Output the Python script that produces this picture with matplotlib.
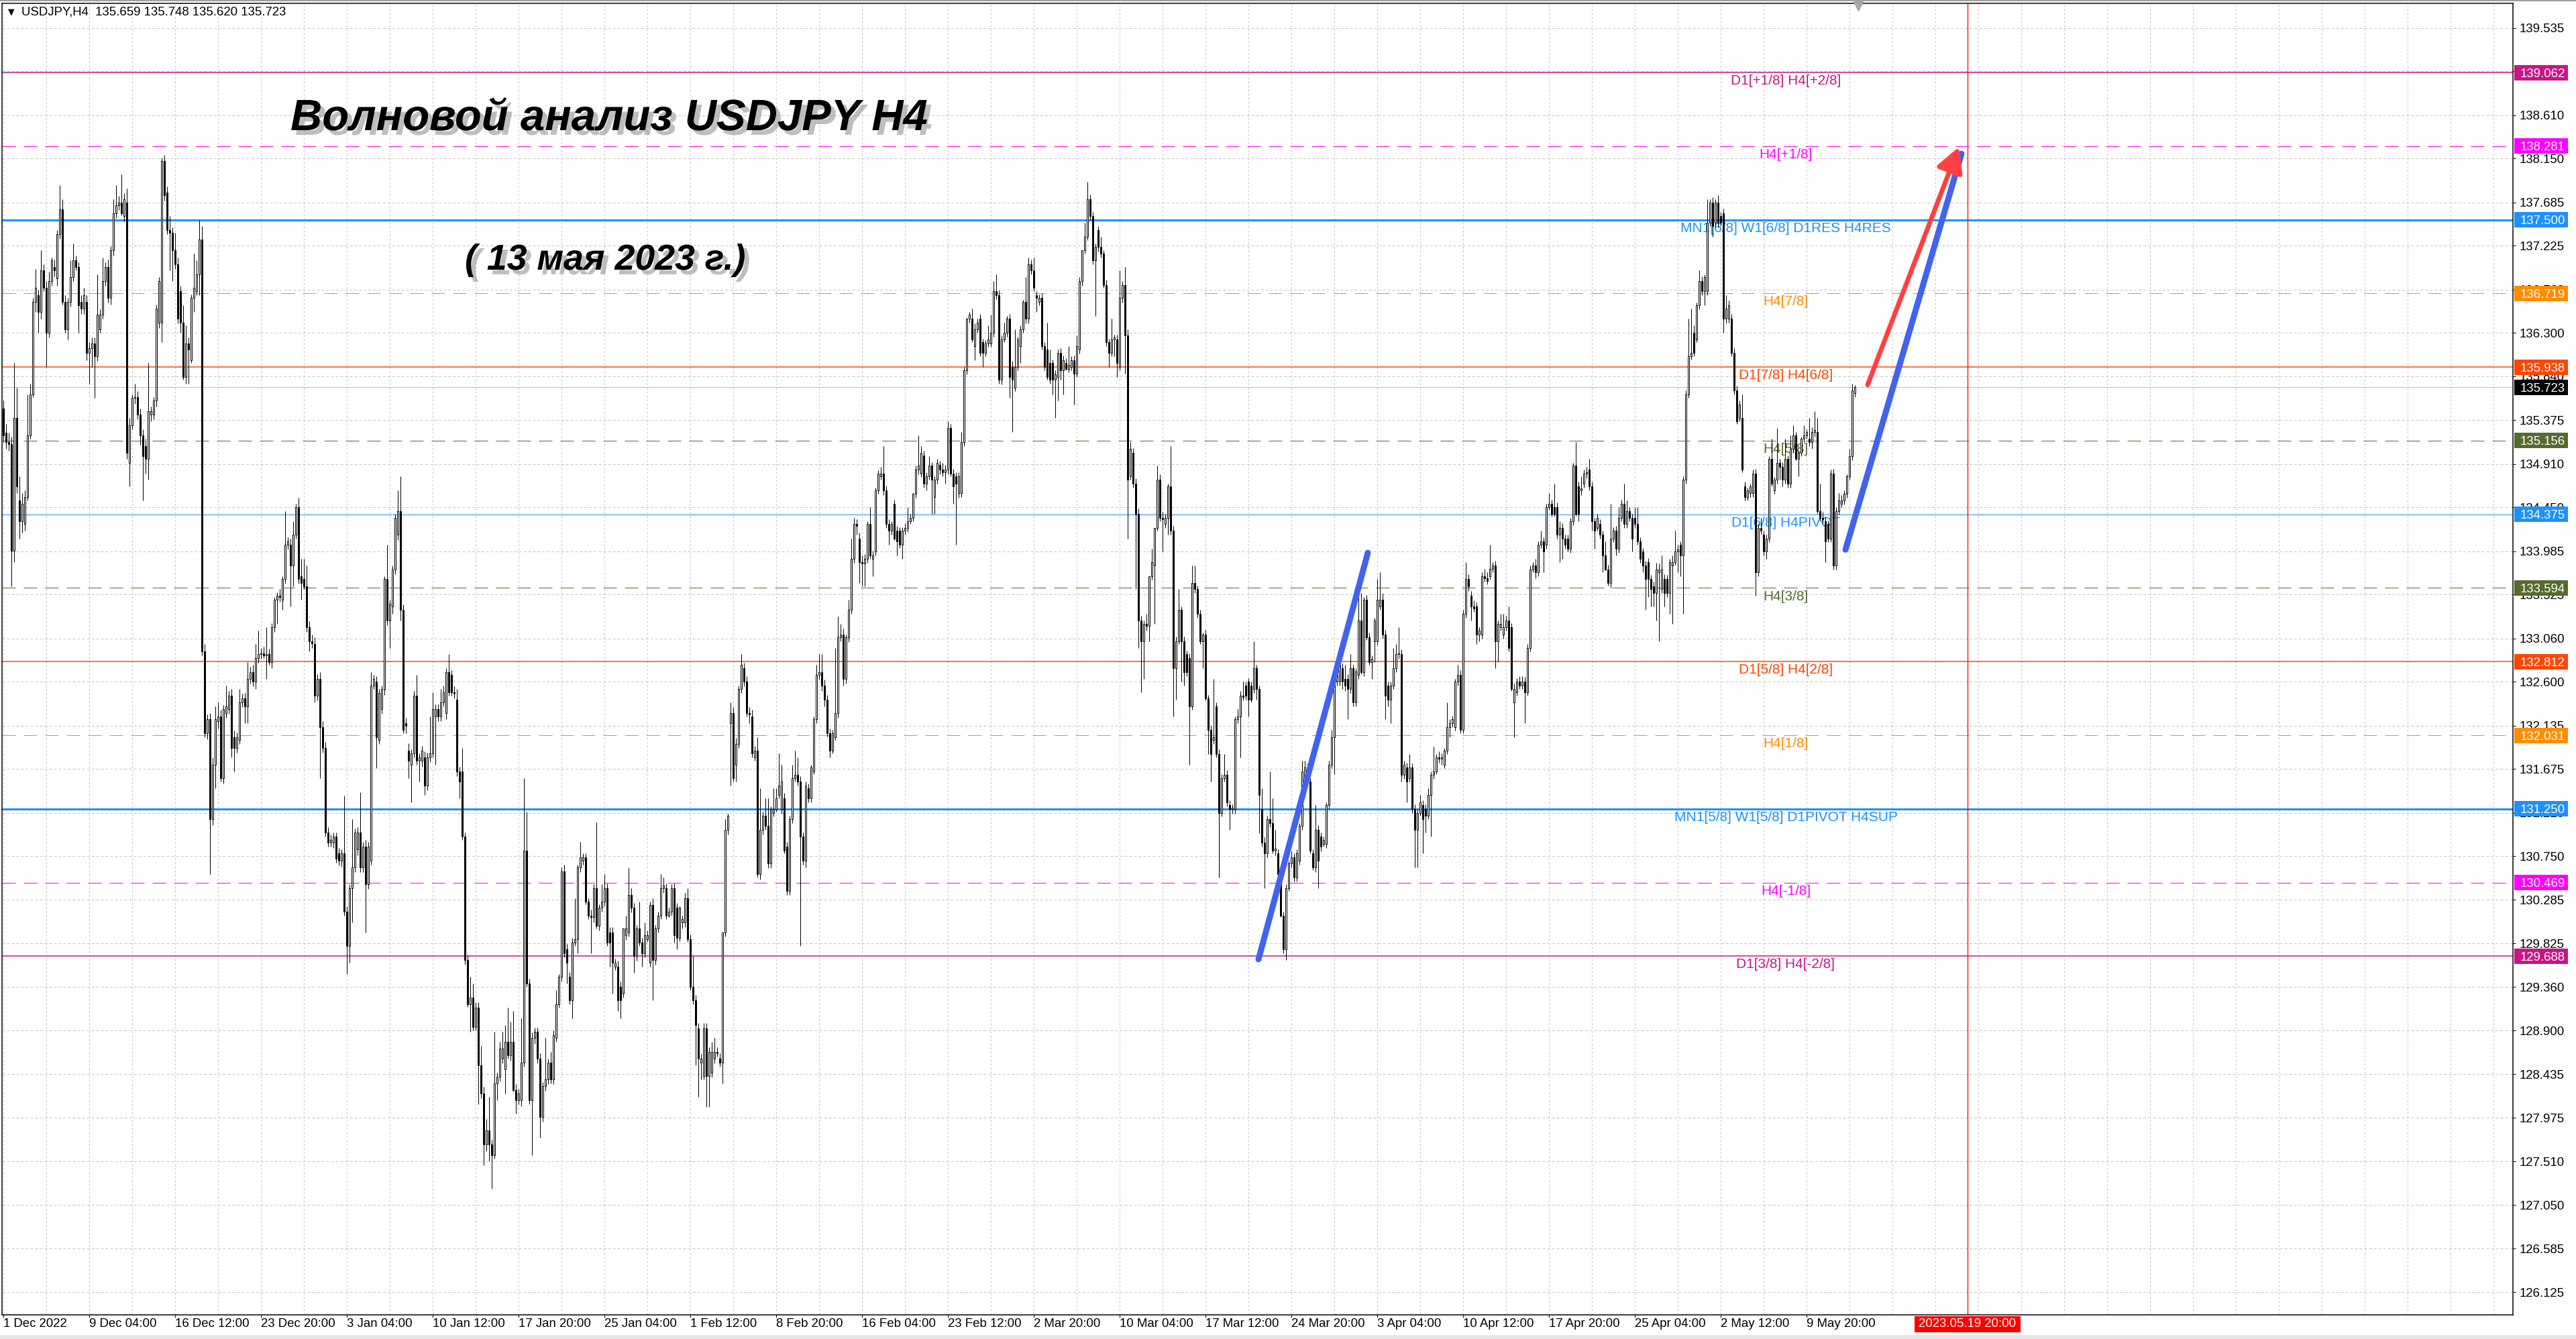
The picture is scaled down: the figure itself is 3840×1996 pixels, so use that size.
import numpy as np
import pandas as pd
import matplotlib
matplotlib.use("Agg")
import matplotlib.pyplot as plt
import matplotlib.patheffects as pe
import matplotlib.transforms as mtransforms
from matplotlib import font_manager as fm
from matplotlib.patches import Rectangle, FancyArrowPatch

# ---------------------------------------------------------------- data
symbol = "USDJPY,H4"
title_line = "Волновой анализ USDJPY H4"
date_line = "( 13 мая 2023 г.)"

# H4 candles (open, high, low, close), first bar = 1 Dec 2022 20:00
dec_2022 = [
    (135.50,135.58,135.14,135.21),(135.24,135.33,135.07,135.14),(135.14,135.24,135.05,135.12),(135.12,135.20,133.61,133.99),(133.99,135.98,133.87,135.40),
    (135.40,135.72,134.60,134.67),(134.52,134.78,134.12,134.30),(134.30,134.60,134.18,134.49),(134.27,134.63,134.20,134.56),(134.56,135.65,134.52,135.21),
    (135.21,135.76,135.18,135.65),(135.65,136.67,135.62,136.63),(136.63,136.98,136.52,136.78),(136.70,136.76,136.30,136.52),(136.52,137.18,136.45,136.96),
    (136.96,137.03,136.74,136.78),(136.78,136.85,135.94,136.30),(136.30,136.95,136.25,136.85),(136.85,137.10,136.80,137.07),(137.00,137.08,136.90,136.96),
    (136.88,137.39,136.80,137.35),(137.35,137.87,137.30,137.61),(137.61,137.72,136.60,136.63),(136.63,136.70,136.30,136.34),(136.34,136.67,136.23,136.63),
    (136.63,137.07,136.58,136.89),(136.89,137.25,136.85,137.07),(137.07,137.12,136.96,137.00),(137.00,137.05,136.30,136.59),(136.63,136.70,136.50,136.56),
    (136.56,136.78,136.50,136.70),(136.63,136.70,136.01,136.09),(136.09,136.20,135.76,136.14),(136.14,136.25,135.94,136.19),(136.19,136.25,135.61,136.05),
    (136.05,136.92,136.00,136.49),(136.34,136.55,136.30,136.49),(136.49,137.10,136.45,136.85),(136.85,137.05,136.80,137.00),(137.00,137.08,136.62,136.67),
    (136.67,137.22,136.60,137.18),(137.18,137.72,137.12,137.57),(137.57,137.87,137.52,137.65),(137.65,137.75,137.60,137.68),(137.68,137.98,137.55,137.57),
    (137.54,137.78,137.48,137.72),(137.68,137.83,134.96,135.03),(134.92,135.40,134.67,135.32),(135.32,135.65,135.28,135.61),(135.61,135.76,135.55,135.62),
    (135.62,135.68,135.38,135.43),(135.43,135.50,135.11,135.21),(135.21,135.28,134.52,134.99),(135.10,135.18,134.81,134.96),(134.96,135.98,134.74,135.47),
    (135.43,135.52,135.36,135.47),(135.43,135.62,135.38,135.58),(135.58,136.60,135.52,136.56),(136.41,136.89,136.35,136.85),(136.41,138.16,136.20,138.12),
    (138.12,138.19,137.70,137.76),(137.79,137.85,137.35,137.39),(137.39,137.54,136.96,137.36),(137.36,137.42,136.85,137.18),(137.18,137.36,136.98,137.03),
    (137.03,137.10,136.40,136.45),(136.74,136.80,136.30,136.41),(136.41,136.59,135.80,135.83),(135.83,136.38,135.76,136.19),(136.19,136.25,135.76,136.12),
    (136.01,136.71,135.98,136.67),(136.67,137.14,136.52,136.78),(136.74,137.07,136.70,136.92),(136.92,137.50,136.70,137.29),(137.29,137.43,132.88,132.92),
    (132.92,133.00,132.01,132.05),(132.05,132.25,131.99,132.20),(132.20,132.27,130.56,131.14),(131.14,131.80,131.08,131.72),(131.72,132.34,131.47,132.20),
    (132.18,132.38,132.10,132.23),(132.23,132.30,131.54,131.58),(131.58,132.35,131.52,132.31),(132.27,132.56,132.22,132.34),(132.31,132.50,132.26,132.45),
    (132.45,132.52,131.80,131.90),(132.01,132.08,131.65,131.90),(131.90,132.06,131.85,132.01),(131.98,132.52,131.94,132.38),(132.38,132.47,132.33,132.42),
    (132.42,132.48,132.16,132.34),(132.34,132.81,132.16,132.63),(132.63,132.76,132.58,132.70),(132.70,132.78,132.55,132.60),(132.60,133.00,132.52,132.85),
    (132.85,133.14,132.80,132.89),(132.89,132.96,132.84,132.90),(132.90,132.97,132.85,132.88),(132.88,133.18,132.63,132.89),(132.89,132.95,132.78,132.81),
    (132.81,133.22,132.74,133.18),(133.18,133.50,133.13,133.47),(133.47,133.55,133.21,133.51),(133.51,133.58,133.45,133.50),(133.47,133.72,133.36,133.69),
    (133.69,134.41,133.64,134.05),(134.05,134.13,134.00,134.09),(134.05,134.12,133.40,133.83),(133.83,134.30,133.61,134.16),(134.16,134.49,134.12,134.45),
    (134.45,134.55,133.64,133.69),(133.72,133.90,133.47,133.65),(133.69,133.90,133.58,133.61),(133.61,133.83,133.13,133.18),(133.18,133.24,132.92,133.03),
    (133.03,133.10,132.96,133.01),(133.00,133.07,132.38,132.45),(132.45,132.68,132.40,132.63),(132.63,132.70,131.58,132.12),(132.12,132.18,131.85,131.90),
    (131.90,131.96,130.96,131.00),
]
jan_2023 = [
    (131.00,131.06,130.85,130.89),(130.89,130.98,130.85,130.92),(130.89,131.00,130.84,130.96),(130.96,131.00,130.68,130.72),(130.78,130.84,130.65,130.70),
    (130.70,130.82,130.64,130.78),(130.78,131.39,130.12,130.16),(130.16,130.22,129.50,129.80),(129.80,130.45,129.62,130.41),(130.41,131.14,130.05,130.63),
    (130.63,131.04,130.58,131.00),(130.82,131.06,130.76,131.00),(131.00,131.43,130.58,130.63),(130.63,130.90,130.58,130.85),(130.85,130.92,129.94,130.45),
    (130.45,130.90,130.40,130.85),(130.70,132.70,130.66,132.56),(132.56,132.67,132.52,132.63),(132.60,132.66,131.68,132.01),(131.98,132.52,131.94,132.48),
    (132.31,132.56,132.26,132.52),(132.52,133.72,132.46,133.69),(133.69,134.05,133.20,133.25),(133.25,133.47,132.96,133.43),(133.40,133.83,133.32,133.79),
    (133.79,134.38,133.74,134.34),(134.16,134.63,134.10,134.41),(134.41,134.78,133.25,133.36),(133.36,133.42,132.05,132.09),(132.16,132.22,132.05,132.13),
    (131.87,131.95,131.58,131.76),(131.72,131.88,131.32,131.84),(131.84,132.50,131.80,132.45),(132.45,132.67,131.72,131.76),(131.76,131.84,131.54,131.80),
    (131.76,131.92,131.70,131.87),(131.80,131.86,131.40,131.50),(131.50,131.85,131.45,131.80),(131.80,132.23,131.75,131.84),(131.84,132.49,131.80,132.31),
    (132.23,132.36,131.72,132.31),(132.31,132.36,132.18,132.23),(132.23,132.52,132.18,132.38),(132.38,132.56,132.34,132.49),(132.27,132.74,132.20,132.70),
    (132.70,132.89,132.45,132.49),(132.67,132.72,132.45,132.49),(132.49,132.55,132.42,132.47),(132.41,132.52,131.60,131.65),(131.65,131.70,131.36,131.54),
    (131.65,131.90,130.92,130.96),(130.96,131.00,129.60,129.65),(129.65,129.70,129.15,129.18),(129.18,129.47,128.89,129.25),(129.25,129.40,128.90,128.94),
    (128.94,129.20,128.90,129.14),(129.14,129.20,128.12,128.53),(128.53,128.74,128.18,128.23),(128.23,128.30,127.47,127.69),(127.69,127.96,127.62,127.84),
    (127.84,128.20,127.51,127.69),(127.69,127.74,127.22,127.58),(127.58,128.89,127.54,128.34),(128.34,128.45,128.16,128.41),(128.41,128.78,128.36,128.71),
    (128.60,128.89,128.55,128.71),(128.49,128.96,128.23,128.78),(128.78,129.14,128.60,128.64),(128.64,128.99,128.58,128.78),(128.78,129.11,128.25,128.27),
    (128.27,128.33,128.02,128.16),(128.16,128.28,128.12,128.23),(128.16,129.03,128.10,128.56),(128.56,131.58,128.52,130.81),(130.81,131.22,129.36,129.40),
    (129.40,129.45,128.12,128.16),(128.16,128.88,127.58,128.82),(128.82,128.93,128.76,128.89),(128.89,128.93,128.55,128.60),(128.60,128.66,127.76,127.98),
    (127.98,128.35,127.93,128.31),(128.31,128.82,128.26,128.38),(128.38,128.60,128.33,128.56),(128.56,128.67,128.34,128.38),(128.38,128.90,128.33,128.85),
    (128.82,129.33,128.78,129.18),(129.18,129.50,129.14,129.47),(129.47,130.63,129.42,130.59),(130.59,130.66,129.68,129.72),(129.76,129.82,129.40,129.62),
    (129.47,129.52,129.18,129.22),(129.22,129.88,129.03,129.83),(129.83,130.30,129.80,129.87),(129.87,130.66,129.72,130.63),(130.63,130.90,130.58,130.74),
    (130.70,130.78,130.66,130.74),(130.74,130.78,130.24,130.27),(130.27,130.30,130.08,130.12),(130.12,130.18,129.72,130.10),(130.10,130.45,130.05,130.41),
    (130.41,131.11,129.98,130.01),(130.01,130.24,129.96,130.20),(130.20,130.45,130.16,130.27),(130.27,130.56,130.22,130.41),(130.41,130.46,129.80,129.83),
    (129.94,130.00,129.58,129.83),(129.94,130.00,129.29,129.62),(129.58,129.66,129.54,129.62),(129.58,129.64,129.11,129.22),(129.36,129.42,129.03,129.22),
    (129.29,129.98,129.25,129.98),(129.91,130.12,129.86,129.98),(129.94,130.63,129.90,130.34),(130.34,130.41,130.15,130.20),(130.20,130.25,129.51,129.69),
    (129.69,130.02,129.64,129.98),(129.98,130.27,129.80,129.83),(129.83,129.88,129.58,129.72),(129.72,130.05,129.68,129.91),(129.87,129.96,129.84,129.91),
    (129.62,130.27,129.58,130.23),(130.23,130.30,129.22,129.65),(129.65,130.02,129.60,129.98),(129.98,130.16,129.94,130.12),(130.12,130.56,130.08,130.41),
    (130.41,130.52,130.36,130.44),(130.41,130.46,130.08,130.12),(130.12,130.20,130.10,130.16),(130.16,130.45,130.12,130.41),(130.41,130.46,129.83,129.91),
    (130.20,130.25,129.76,129.88),(129.88,130.22,129.85,130.20),
]
feb_2023 = [
    (130.05,130.12,129.98,130.08),(130.05,130.36,130.00,130.30),(130.30,130.41,129.84,129.87),(129.87,129.92,129.33,129.36),(129.36,129.69,129.18,129.22),
    (129.22,129.28,128.53,128.96),(128.92,128.98,128.20,128.60),(128.56,128.65,128.38,128.60),(128.42,128.98,128.38,128.92),(128.92,128.98,128.09,128.42),
    (128.42,128.72,128.09,128.67),(128.45,128.78,128.40,128.67),(128.60,128.82,128.55,128.67),(128.67,128.72,128.62,128.66),(128.60,128.66,128.52,128.56),
    (128.56,129.94,128.34,129.94),(129.94,131.14,129.90,131.03),(131.03,131.20,130.98,131.18),(132.16,132.38,131.50,132.27),(132.27,132.33,131.54,131.58),
    (131.72,132.00,131.54,131.94),(131.94,132.56,131.90,132.52),(132.52,132.89,132.48,132.78),(132.74,132.80,132.55,132.60),(132.60,132.66,132.23,132.27),
    (132.27,132.33,132.16,132.25),(132.23,132.30,131.80,131.84),(131.80,131.92,131.76,131.87),(131.87,132.01,130.52,130.56),(130.56,131.47,130.50,131.03),
    (131.03,131.22,130.98,131.18),(131.18,131.36,131.03,131.07),(131.07,131.36,130.62,130.67),(130.67,131.28,130.62,131.25),(131.21,131.47,131.17,131.25),
    (131.25,131.47,131.22,131.36),(131.40,131.84,131.36,131.50),(131.25,131.72,131.20,131.54),(131.36,131.42,130.78,130.81),(130.85,130.90,130.34,130.38),
    (130.38,131.18,130.34,131.14),(131.14,131.72,131.10,131.58),(131.58,131.87,131.54,131.61),(131.61,131.80,131.50,131.54),(131.54,131.60,129.80,130.96),
    (130.96,131.00,130.66,130.70),(130.70,131.54,130.63,131.50),(131.47,131.52,131.32,131.36),(131.36,131.72,131.32,131.69),(131.65,132.23,131.62,132.20),
    (132.20,132.78,132.16,132.67),(132.67,132.89,132.62,132.70),(132.70,132.89,132.50,132.56),(132.56,132.62,132.34,132.41),(132.41,132.46,132.02,132.05),
    (132.05,132.10,131.80,131.87),(131.87,132.09,131.84,132.05),(132.01,132.96,131.98,132.27),(132.27,133.29,132.22,133.07),(133.07,133.21,133.03,133.10),
    (133.10,133.16,132.56,132.63),(132.63,133.10,132.58,133.07),(133.07,133.47,133.02,133.36),(133.36,134.12,133.32,133.90),(133.90,134.34,133.86,134.27),
    (134.27,134.32,134.16,134.25),(134.12,134.18,133.65,133.87),(133.87,133.94,133.61,133.85),(133.85,133.95,133.61,133.90),(133.90,134.30,133.86,134.27),
    (134.27,134.45,133.90,133.94),(133.90,133.99,133.72,133.94),(133.98,134.66,133.94,134.63),(134.63,134.84,134.59,134.81),(134.78,134.88,134.74,134.81),
    (134.81,135.10,134.58,134.63),(134.63,134.68,134.23,134.27),(134.27,134.32,134.05,134.20),(134.20,134.30,134.16,134.27),(134.49,134.53,134.10,134.12),
    (134.20,134.25,133.94,134.09),(134.20,134.24,134.02,134.05),(134.05,134.24,133.90,134.20),(134.20,134.28,134.16,134.23),(134.23,134.45,134.19,134.30),
    (134.30,134.38,134.27,134.34),(134.34,134.60,134.30,134.59),(134.59,134.89,134.55,134.85),(134.85,135.21,134.80,134.89),(134.81,135.10,134.77,135.03),
    (135.00,135.05,134.66,134.70),(134.70,134.82,134.63,134.78),(134.78,134.99,134.74,134.89),(134.89,134.93,134.38,134.74),(134.56,134.78,134.38,134.74),
    (134.74,134.96,134.70,134.92),(134.90,134.94,134.80,134.85),(134.85,134.92,134.78,134.82),(134.82,134.90,134.70,134.85),(134.85,135.36,134.80,135.29),
    (135.29,135.33,134.78,134.81),(134.81,134.86,134.49,134.67),(134.78,134.82,134.05,134.70),(134.60,134.82,134.55,134.78),(134.60,135.25,134.56,135.14),
    (135.14,135.94,135.10,135.90),(135.90,136.46,135.86,136.45),(136.45,136.52,136.41,136.49),(136.45,136.56,136.20,136.23),(136.16,136.40,136.01,136.34),
    (136.34,136.45,136.30,136.41),(136.45,136.50,136.05,136.09),(136.20,136.24,135.94,136.09),(136.09,136.22,136.05,136.19),(136.19,136.38,136.15,136.23),
    (136.19,136.49,136.15,136.30),(136.30,136.85,136.26,136.74),(136.74,136.92,136.66,136.70),(136.70,136.75,135.76,135.80),(135.80,136.27,135.75,136.23),
]
mar_2023 = [
    (136.23,136.41,136.20,136.30),(136.30,136.48,136.26,136.45),(136.45,136.50,135.61,135.83),(135.94,136.00,135.25,135.80),(135.72,136.34,135.68,135.94),
    (135.94,136.26,135.90,136.23),(136.16,136.38,135.98,136.34),(136.34,136.65,136.30,136.63),(136.63,136.89,136.40,136.45),(136.45,137.10,136.40,137.03),
    (137.03,137.08,136.92,136.96),(136.96,137.10,136.74,136.78),(136.70,136.74,136.52,136.67),(136.63,136.71,136.59,136.67),(136.67,136.72,136.12,136.16),
    (136.16,136.20,135.90,135.94),(136.12,136.41,135.80,135.83),(135.98,136.12,135.76,135.80),(135.98,136.02,135.65,135.80),(135.80,135.90,135.40,135.86),
    (135.83,136.12,135.58,136.09),(136.09,136.14,135.80,135.90),(135.90,136.06,135.65,136.01),(135.98,136.03,135.90,135.92),(135.92,136.16,135.88,135.96),
    (135.94,136.05,135.90,136.01),(136.01,136.06,135.54,135.87),(135.87,136.27,135.83,136.16),(136.12,136.89,136.08,136.85),(136.85,137.18,136.80,137.18),
    (137.18,137.47,137.14,137.32),(137.32,137.90,137.28,137.72),(137.72,137.77,137.50,137.54),(137.54,137.58,137.03,137.07),(137.07,137.25,136.48,137.21),
    (137.39,137.43,137.16,137.21),(137.21,137.32,137.10,137.14),(137.14,137.18,136.78,136.81),(136.81,136.86,136.16,136.20),(136.20,136.24,135.94,136.09),
    (136.09,136.45,136.05,136.23),(136.23,136.28,136.05,136.25),(136.23,136.28,135.83,135.98),(135.94,136.96,135.90,136.67),(136.67,136.85,136.62,136.81),
    (136.81,137.00,135.87,136.27),(136.27,136.34,134.12,134.74),(134.78,135.14,134.74,135.07),(135.03,135.08,134.66,134.70),(134.70,134.76,133.58,134.38),
    (134.38,134.44,132.96,133.25),(133.25,133.30,132.49,133.03),(133.03,133.25,132.63,133.21),(133.21,133.32,133.14,133.19),(133.19,133.72,133.03,133.72),
    (133.72,134.01,133.68,133.87),(133.83,134.23,133.21,134.23),(134.23,134.89,134.20,134.74),(134.74,134.80,134.30,134.34),(134.34,134.40,133.98,134.32),
    (134.27,134.38,134.23,134.34),(134.34,134.70,134.16,134.67),(134.67,135.10,134.16,134.20),(134.20,134.25,132.23,132.74),(132.74,133.08,132.41,133.03),
    (133.03,133.58,133.00,133.36),(133.36,133.40,132.60,133.03),(133.03,133.08,132.56,132.70),(132.89,132.93,132.66,132.70),(132.85,132.90,131.72,132.34),
    (132.34,133.83,132.30,133.65),(133.65,133.83,133.54,133.58),(133.58,133.62,133.28,133.32),(133.32,133.36,133.00,133.03),(133.03,133.12,132.74,133.10),
    (133.10,133.15,132.40,132.42),(132.42,132.46,131.83,132.09),(132.09,132.14,131.54,131.83),(131.98,132.63,131.94,132.01),(132.34,132.38,131.80,131.83),
    (131.83,131.88,130.52,131.21),(131.21,131.62,131.17,131.58),(131.58,131.83,131.54,131.61),(131.61,131.66,131.28,131.32),(131.29,131.34,131.03,131.25),
    (131.25,131.30,131.20,131.26),(131.25,132.23,131.20,132.20),(132.20,132.31,132.16,132.23),(132.23,132.50,131.80,132.45),(132.45,132.60,132.40,132.44),
    (132.56,132.60,132.41,132.45),(132.60,132.64,132.23,132.41),(132.56,132.60,132.38,132.41),(132.52,133.03,132.48,132.74),(132.74,132.78,132.41,132.52),
    (132.52,132.56,130.99,131.40),(131.25,131.47,130.85,130.89),(130.89,130.95,130.41,130.78),(130.78,131.18,130.74,131.14),(131.14,131.65,131.06,131.10),
    (131.10,131.36,130.78,130.81),(130.81,131.03,130.76,130.83),(130.78,130.82,130.52,130.56),(130.56,130.60,130.10,130.12),(130.12,130.16,129.72,129.76),
    (129.76,130.45,129.65,130.41),(130.41,130.70,130.38,130.67),(130.67,130.80,130.63,130.74),(130.74,130.78,130.48,130.52),(130.52,130.82,130.48,130.78),
    (130.70,131.10,130.66,131.07),(131.07,131.76,131.03,131.65),(131.58,131.76,131.54,131.69),(131.69,131.73,131.50,131.54),(131.54,131.58,130.78,130.81),
    (130.78,130.82,130.60,130.63),(130.63,131.29,130.58,131.03),(131.03,131.08,130.41,130.70),(130.96,131.00,130.80,130.85),(130.88,130.96,130.85,130.92),
    (130.88,131.32,130.84,131.29),(131.29,131.76,131.25,131.72),(131.72,132.09,131.68,132.01),(132.01,132.64,131.62,132.60),(132.60,132.72,132.56,132.67),
    (132.60,132.82,132.56,132.78),(132.74,132.79,132.52,132.60),(132.63,132.78,132.50,132.56),(132.63,132.68,132.20,132.52),(132.52,132.89,132.48,132.74),
    (132.74,132.78,132.34,132.38),(132.38,132.74,132.34,132.71),(132.67,133.50,132.63,133.25),(133.25,133.54,132.68,132.70),(132.70,133.50,132.66,133.47),
    (133.47,133.52,133.04,133.07),(133.07,133.12,132.78,132.81),(132.81,132.88,132.63,132.84),
]
apr_2023 = [
    (133.03,133.28,132.81,133.25),(133.03,133.69,132.99,133.47),(133.40,133.76,133.36,133.47),(133.47,133.54,133.06,133.10),(133.10,133.15,132.20,132.45),
    (132.56,132.60,132.34,132.41),(132.41,132.60,132.16,132.56),(132.56,132.96,132.52,132.74),(132.74,133.00,132.70,132.89),(132.89,133.18,132.84,132.90),
    (132.89,132.94,131.54,131.61),(131.61,131.76,131.57,131.72),(131.69,131.74,131.32,131.54),(131.58,131.83,131.54,131.69),(131.69,131.73,131.21,131.25),
    (131.25,131.30,130.63,131.03),(131.03,131.25,130.63,131.21),(131.21,131.40,131.18,131.32),(131.29,131.34,130.78,131.14),(131.25,131.30,131.00,131.18),
    (131.18,131.47,131.14,131.40),(131.40,131.65,130.96,131.61),(131.61,131.91,131.57,131.65),(131.65,131.83,131.62,131.80),(131.80,131.86,131.74,131.78),
    (131.78,131.84,131.72,131.80),(131.72,131.90,131.68,131.87),(131.87,132.38,131.83,132.12),(132.12,132.20,132.01,132.16),(132.16,132.24,132.12,132.20),
    (132.12,132.63,132.08,132.60),(132.60,132.78,132.56,132.67),(132.67,132.72,132.05,132.09),(132.09,133.36,132.05,133.32),(133.32,133.87,133.28,133.69),
    (133.69,133.74,133.56,133.61),(133.51,133.56,133.25,133.40),(133.40,133.46,133.34,133.38),(133.40,133.44,133.00,133.10),(133.10,133.18,133.03,133.14),
    (133.10,133.76,133.06,133.72),(133.72,133.80,133.66,133.70),(133.70,133.76,133.63,133.67),(133.72,134.05,133.68,133.80),(133.80,133.87,133.76,133.83),
    (133.83,133.88,132.74,133.03),(133.03,133.25,132.81,133.21),(133.18,133.32,133.14,133.21),(133.10,133.32,133.06,133.18),(133.18,133.30,133.14,133.25),
    (133.25,133.40,132.92,132.96),(133.18,133.22,132.50,132.52),(132.38,132.58,132.01,132.52),(132.49,132.64,132.45,132.60),(132.60,132.66,132.52,132.56),
    (132.56,132.66,132.52,132.60),(132.60,132.65,132.16,132.49),(132.49,133.00,132.45,132.96),(132.96,133.83,132.92,133.79),(133.79,133.87,133.76,133.83),
    (133.83,133.90,133.70,133.76),(133.76,134.09,133.72,134.05),(134.05,134.20,134.02,134.09),(134.09,134.13,133.76,133.98),(134.05,134.49,134.01,134.45),
    (134.45,134.60,134.42,134.49),(134.49,134.53,134.35,134.38),(134.45,134.70,134.35,134.38),(134.45,134.50,134.12,134.16),(134.16,134.30,133.87,134.23),
    (134.23,134.28,133.90,134.12),(134.12,134.16,134.01,134.05),(134.12,134.16,133.98,134.01),(134.01,134.34,133.97,134.30),(134.30,134.92,134.26,134.89),
    (134.89,135.14,134.36,134.38),(134.67,134.72,134.30,134.38),(134.63,134.78,134.58,134.65),(134.70,134.85,134.66,134.81),(134.81,134.88,134.76,134.82),
    (134.85,134.96,134.63,134.67),(134.67,134.72,134.20,134.30),(134.30,134.34,134.01,134.20),(134.23,134.38,134.20,134.34),(134.27,134.32,134.12,134.16),
    (134.16,134.20,133.76,133.94),(133.94,134.09,133.78,133.79),(133.79,133.84,133.62,133.65),(133.65,134.49,133.60,134.12),(134.12,134.24,134.08,134.20),
    (134.20,134.25,133.94,134.01),(134.01,134.45,133.97,134.34),(134.34,134.53,134.30,134.49),(134.49,134.70,134.23,134.27),(134.27,134.52,134.23,134.41),
    (134.41,134.45,134.30,134.34),(134.34,134.38,133.98,134.12),(134.34,134.45,134.23,134.27),(134.27,134.45,134.05,134.09),(134.09,134.13,133.86,133.90),
    (133.98,134.02,133.76,133.83),(133.83,133.88,133.36,133.69),(133.87,133.91,133.50,133.69),(133.69,133.73,133.40,133.58),(133.61,133.66,133.40,133.54),
    (133.54,133.86,133.25,133.79),(133.76,133.85,133.03,133.79),(133.58,133.94,133.54,133.79),(133.69,133.74,133.40,133.54),(133.69,133.73,133.50,133.54),
    (133.54,133.90,133.32,133.87),(133.83,133.94,133.21,133.87),(133.87,134.20,133.84,133.98),(133.98,134.05,133.76,134.00),(134.05,134.09,133.72,133.94),
    (133.94,134.78,133.32,134.74),(134.74,135.69,134.70,135.65),(135.65,136.45,135.61,136.05),(136.05,136.56,136.02,136.09),(136.30,136.38,136.05,136.09),
]
may_2023 = [
    (136.23,136.62,136.20,136.59),(136.59,136.96,136.55,136.85),(136.85,136.90,136.70,136.74),(136.74,136.92,136.59,136.89),(136.74,137.72,136.70,137.47),
    (137.47,137.72,137.43,137.68),(137.68,137.74,137.32,137.43),(137.47,137.72,137.43,137.68),(137.68,137.76,137.42,137.47),(137.54,137.58,137.43,137.47),
    (137.57,137.62,136.30,136.45),(136.45,136.70,136.40,136.56),(136.45,136.64,136.41,136.59),(136.45,136.50,136.05,136.09),(136.09,136.14,135.65,135.69),
    (135.69,135.74,135.33,135.36),(135.40,135.58,135.36,135.54),(135.40,135.65,134.82,134.85),(134.67,134.72,134.52,134.56),(134.56,134.66,134.52,134.63),
    (134.60,134.70,134.56,134.67),(134.60,134.85,134.56,134.81),(134.81,134.86,133.51,133.76),(133.76,134.27,133.72,134.23),(134.23,134.34,134.16,134.20),
    (134.16,134.20,133.94,133.98),(133.98,134.16,133.90,134.12),(134.12,134.99,134.08,134.96),(134.96,135.18,134.67,134.70),(134.63,134.77,134.59,134.74),
    (134.74,135.29,134.70,134.92),(134.92,134.96,134.74,134.88),(134.88,134.93,134.67,134.74),(134.74,135.18,134.70,134.96),(134.96,135.00,134.66,134.70),
    (134.70,135.21,134.66,135.07),(135.07,135.32,135.03,135.21),(135.21,135.25,134.95,134.96),(134.96,135.05,134.78,135.03),(135.03,135.20,134.99,135.18),
    (135.18,135.32,135.14,135.21),(135.21,135.28,135.18,135.25),(135.18,135.40,135.10,135.14),(135.14,135.30,135.07,135.25),(135.25,135.47,135.20,135.27),
    (135.25,135.40,134.38,134.41),(134.41,134.70,134.30,134.34),(134.34,134.40,134.28,134.32),(134.30,134.35,133.87,134.09),(134.27,134.31,134.08,134.12),
    (134.12,134.85,134.08,134.81),(134.81,134.86,133.79,133.83),(133.83,134.45,133.79,134.41),(134.41,134.60,134.37,134.52),(134.49,134.58,134.45,134.52),
    (134.52,134.63,134.48,134.59),(134.59,134.80,134.55,134.78),(134.78,135.07,134.74,134.99),(134.99,135.76,134.95,135.69),(135.659,135.748,135.620,135.723),
]

time_label_bars = [0, 32, 64, 96, 128, 160, 192, 224, 256, 288, 320, 352,
                   384, 416, 448, 480, 512, 544, 576, 608, 640, 672]
time_labels = ["1 Dec 2022", "9 Dec 04:00", "16 Dec 12:00", "23 Dec 20:00", "3 Jan 04:00",
               "10 Jan 12:00", "17 Jan 20:00", "25 Jan 04:00", "1 Feb 12:00", "8 Feb 20:00",
               "16 Feb 04:00", "23 Feb 12:00", "2 Mar 20:00", "10 Mar 04:00", "17 Mar 12:00",
               "24 Mar 20:00", "3 Apr 04:00", "10 Apr 12:00", "17 Apr 20:00", "25 Apr 04:00",
               "2 May 12:00", "9 May 20:00"]

price_ticks = [126.125, 126.585, 127.050, 127.510, 127.975, 128.435, 128.900, 129.360,
               129.825, 130.285, 130.750, 131.210, 131.675, 132.135, 132.600, 133.060,
               133.525, 133.985, 134.450, 134.910, 135.375, 135.840, 136.300, 136.760,
               137.225, 137.685, 138.150, 138.610, 139.075, 139.535]

level_prices = [139.062, 138.281, 137.500, 136.719, 135.938, 135.156, 134.375,
                133.594, 132.812, 132.031, 131.250, 130.469, 129.688]
level_names = ["D1[+1/8] H4[+2/8]", "H4[+1/8]", "MN1[6/8] W1[6/8] D1RES H4RES", "H4[7/8]",
               "D1[7/8] H4[6/8]", "H4[5/8]", "D1[6/8] H4PIVOT", "H4[3/8]",
               "D1[5/8] H4[2/8]", "H4[1/8]", "MN1[5/8] W1[5/8] D1PIVOT H4SUP",
               "H4[-1/8]", "D1[3/8] H4[-2/8]"]
level_colors = ["#C71585", "#FF00FF", "#1E90FF", "#FF8C00", "#FF4500", "#556B2F", "#1E90FF",
                "#556B2F", "#FF4500", "#FF8C00", "#1E90FF", "#FF00FF", "#C71585"]
level_dashed = [False, True, False, True, False, True, False, True, False, True, False, True, False]
level_width_px = [1.5, 1, 3, 1, 1.5, 1, 1, 1, 1.5, 1, 3, 1, 1.5]

future_bar = 732
future_label = "2023.05.19 20:00"

wave_a_bars, wave_a_prices = [467.75, 508.5], [129.655, 133.967]
wave_b_bars, wave_b_prices = [686.5, 729.75], [134.00, 138.20]
forecast_bars, forecast_prices = [694.5, 729.0], [135.73, 138.29]

# ---------------------------------------------------------------- layout
W, H = 3840, 1996
PX = 0.72                      # points per pixel at dpi=100
AX_L, AX_R, AX_T, AX_B = 3, 3746, 5, 1960
X_MIN, X_MAX = -0.5, 935.25
Y_MIN, Y_MAX = 125.884, 139.795
label_bar = 664.25

avail = {f.name for f in fm.fontManager.ttflist}
if "Liberation Sans Narrow" in avail:
    NARROW, NS = "Liberation Sans Narrow", 1.0
else:
    NARROW, NS = "Liberation Sans", 0.84
REG = "Liberation Sans" if "Liberation Sans" in avail else "DejaVu Sans"

df = pd.DataFrame(dec_2022 + jan_2023 + feb_2023 + mar_2023 + apr_2023 + may_2023,
                  columns=["open", "high", "low", "close"])
x = np.arange(len(df))
o, h, l, c = (df[k].to_numpy() for k in ["open", "high", "low", "close"])

fig = plt.figure(figsize=(W / 100, H / 100), dpi=100)
fig.patch.set_facecolor("white")
ax = fig.add_axes([AX_L / W, (H - AX_B) / H, (AX_R - AX_L) / W, (AX_B - AX_T) / H])
ax.set_facecolor("white")
ax.set_xlim(X_MIN, X_MAX)
ax.set_ylim(Y_MIN, Y_MAX)
for s in ax.spines.values():
    s.set_color("black")
    s.set_linewidth(1.5 * PX)

# axes / grid
ax.yaxis.tick_right()
ax.set_yticks(price_ticks)
ax.set_yticklabels([f"{t:.3f}" for t in price_ticks])
ax.tick_params(axis="y", which="major", length=4 * PX, width=PX, pad=6 * PX,
               labelsize=16 * NS, colors="black")
ax.set_xticks(time_label_bars)
ax.set_xticklabels(time_labels, ha="left")
ax.set_xticks(np.arange(0, X_MAX, 16), minor=True)
ax.tick_params(axis="x", which="major", length=4 * PX, width=PX, pad=1, labelsize=16 * NS)
ax.tick_params(axis="x", which="minor", length=0)
for lab in ax.get_xticklabels() + ax.get_yticklabels():
    lab.set_fontfamily(NARROW)
ax.grid(True, axis="x", which="both", color="#C4C4C4", lw=PX, ls=(0, (3, 3)))
ax.grid(True, axis="y", which="major", color="#C4C4C4", lw=PX, ls=(0, (4, 3)))
ax.set_axisbelow(True)

# level lines and labels
for p, name, col, dsh, wpx in zip(level_prices, level_names, level_colors, level_dashed, level_width_px):
    ax.axhline(p, color=col, lw=wpx * PX, ls=(0, (20, 12)) if dsh else "-", zorder=1.6)
    ax.text(label_bar, p - 0.022, name, color=col, ha="center", va="top",
            fontsize=15, family=REG, zorder=2.2)

# bid line
ax.axhline(c[-1], color="#BDBDBD", lw=PX, zorder=1.5)

# future time line
ax.axvline(future_bar, color="#FF0000", lw=1.3 * PX, zorder=1.7)

# candles
ax.vlines(x, l, h, color="black", lw=PX, zorder=3)
bull = c >= o
bot = np.minimum(o, c)
hgt = np.abs(c - o)
ax.bar(x[bull], hgt[bull], bottom=bot[bull], width=0.6, color="white",
       edgecolor="black", linewidth=PX, zorder=4)
ax.bar(x[~bull], hgt[~bull], bottom=bot[~bull], width=0.6, color="black",
       edgecolor="black", linewidth=PX, zorder=4)

# wave lines
ax.plot(wave_a_bars, wave_a_prices, color="#4262F0", lw=9 * PX, solid_capstyle="round", zorder=7)
ax.plot(wave_b_bars, wave_b_prices, color="#4262F0", lw=9 * PX, solid_capstyle="round", zorder=7)
arr = FancyArrowPatch((forecast_bars[0], forecast_prices[0]), (forecast_bars[1], forecast_prices[1]),
                      arrowstyle="-|>,head_length=0.55,head_width=0.3", mutation_scale=40,
                      lw=7 * PX, color="#FF4040", capstyle="round", zorder=8)
ax.add_patch(arr)

# right-hand price boxes
ypp = (Y_MAX - Y_MIN) / (AX_B - AX_T)
bx0 = (3748 - AX_L) / (AX_R - AX_L)
bw = 80 / (AX_R - AX_L)
tx0 = (3757 - AX_L) / (AX_R - AX_L)
trans_y = mtransforms.blended_transform_factory(ax.transAxes, ax.transData)
box_prices = level_prices + [c[-1]]
box_colors = level_colors + ["#000000"]
for p, col in zip(box_prices, box_colors):
    ax.add_patch(Rectangle((bx0, p - 11.5 * ypp), bw, 23 * ypp, transform=trans_y,
                           fc=col, ec="none", clip_on=False, zorder=10))
    ax.text(tx0, p, f"{p:.3f}", transform=trans_y, color="white", ha="left",
            va="center_baseline", fontsize=16 * NS, family=NARROW, clip_on=False, zorder=11)

# future date box under the axis
trans_x = mtransforms.blended_transform_factory(ax.transData, ax.transAxes)
fb_h = 24 / (AX_B - AX_T)
ax.add_patch(Rectangle((future_bar - 19.75, -26 / (AX_B - AX_T)), 39.5, fb_h, transform=trans_x,
                       fc="#FF0000", ec="none", clip_on=False, zorder=10))
ax.text(future_bar, -14 / (AX_B - AX_T), future_label, transform=trans_x, color="white",
        ha="center", va="center", fontsize=16 * NS, family=NARROW, clip_on=False, zorder=11)

# chart shift marker
ax.plot([len(df) + 0.25], [Y_MAX - 4 * ypp], marker="v", ms=10, color="#A8A8A8",
        mec="#A8A8A8", clip_on=False, zorder=12)

# header
fig.text(12 / W, 1 - 18 / H, "▼", family="DejaVu Sans", fontsize=9, va="center", ha="left")
fig.text(32 / W, 1 - 18 / H,
         f"{symbol}  {o[-1]:.3f} {h[-1]:.3f} {l[-1]:.3f} {c[-1]:.3f}",
         family=NARROW, fontsize=16 * NS, va="center", ha="left")

# hand-written style titles
shadow = [pe.withSimplePatchShadow(offset=(5, -5), shadow_rgbFace="#8A8A8A", alpha=0.55)]
fig.text(433 / W, 1 - 194 / H, title_line, family=NARROW, style="italic", weight="bold",
         fontsize=56 * NS, color="black", ha="left", va="baseline", path_effects=shadow)
fig.text(693 / W, 1 - 402 / H, date_line, family=NARROW, style="italic", weight="bold",
         fontsize=46 * NS, color="black", ha="left", va="baseline", path_effects=shadow)

# window strips
fig.add_artist(Rectangle((0, 0), 1, 6 / H, transform=fig.transFigure, fc="#E6E6E6", ec="none"))
fig.add_artist(Rectangle((0, 1 - 2 / H), 1, 2 / H, transform=fig.transFigure, fc="#A0A0A0", ec="none"))

fig.savefig("out.png", dpi=100)
